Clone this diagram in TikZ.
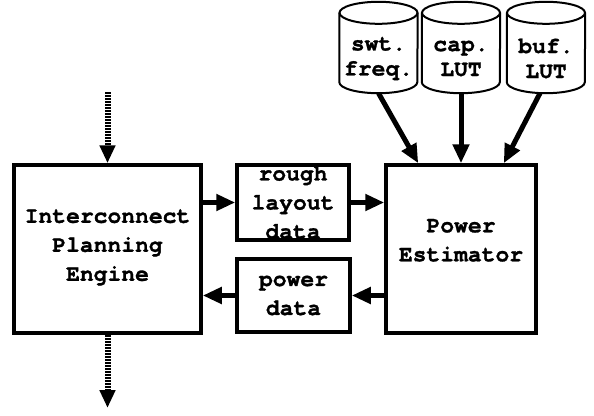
\documentclass[tikz,border=0pt]{standalone}
\usepackage{fontspec}
\setmonofont{TeX Gyre Cursor}[BoldFeatures={FakeBold=1.2}]
\usetikzlibrary{arrows.meta}
\begin{document}
\begin{tikzpicture}[x=1pt,y=-1pt,
  box/.style={draw, line width=3.5pt, inner sep=0pt, align=center,
    font=\ttfamily\bfseries\fontsize{23}{29}\selectfont},
  cyl/.style={inner sep=0pt, align=center, minimum width=78pt, minimum height=69pt,
    font=\ttfamily\bfseries\fontsize{23}{25}\selectfont},
  cylline/.style={line width=2pt},
  arr/.style={line width=5pt, -{Triangle[length=19pt,width=16pt]}},
  dotarr/.style={line width=6pt, dash pattern=on 2pt off 1pt, -{Triangle[length=18pt,width=15pt]}}]
\useasboundingbox (0,0) rectangle (594,415);

\node[box, minimum width=187pt, minimum height=168pt] (ipe) at (107.5,249)
  {\raisebox{3pt}[\height][\depth]{\begin{tabular}{@{}c@{}}Interconnect\\Planning\\Engine\end{tabular}}};
\node[box, minimum width=112pt, minimum height=75pt] (rough) at (293,202.5)
  {rough\\layout\\data};
\node[box, minimum width=113pt, minimum height=73pt] (pdata) at (293.5,295.5)
  {power\\data};
\node[box, minimum width=150pt, minimum height=168pt] (pe) at (461,249)
  {\raisebox{8pt}[\height][\depth]{\begin{tabular}{@{}c@{}}Power\\Estimator\end{tabular}}};

\foreach \n/\cx/\t in {swt/378.5/{swt.\\freq.}, cap/461/{cap.\\LUT}, buf/546/{buf.\\LUT}}{
  \node[cyl] (\n) at (\cx,58.5) {\t};
  \draw[cylline] ([yshift=11pt]\n.north west) -- ([yshift=11pt]\n.south west)
    arc[start angle=180, end angle=360, x radius=39pt, y radius=11pt] -- ([yshift=11pt]\n.north east);
  \draw[cylline] ([yshift=11pt]\n.north) ellipse [x radius=39pt, y radius=11pt];
}

\coordinate (in) at (107.5,92);
\coordinate (out) at (107.5,408);
\draw[dotarr] (in) -- (ipe.north);
\draw[dotarr] (ipe.south) -- (out);

\draw[arr] (ipe.east |- rough.west) -- (rough.west);
\draw[arr] (rough.east) -- (rough.east -| pe.west);
\draw[arr] (pe.west |- pdata.east) -- (pdata.east);
\draw[arr] (pdata.west) -- (pdata.west -| ipe.east);

\draw[arr] (swt.south) -- ([xshift=34pt]pe.north west);
\draw[arr] (cap.south) -- (pe.north);
\draw[arr] ([xshift=-6pt]buf.south) -- ([xshift=-34pt]pe.north east);
\end{tikzpicture}
\end{document}
